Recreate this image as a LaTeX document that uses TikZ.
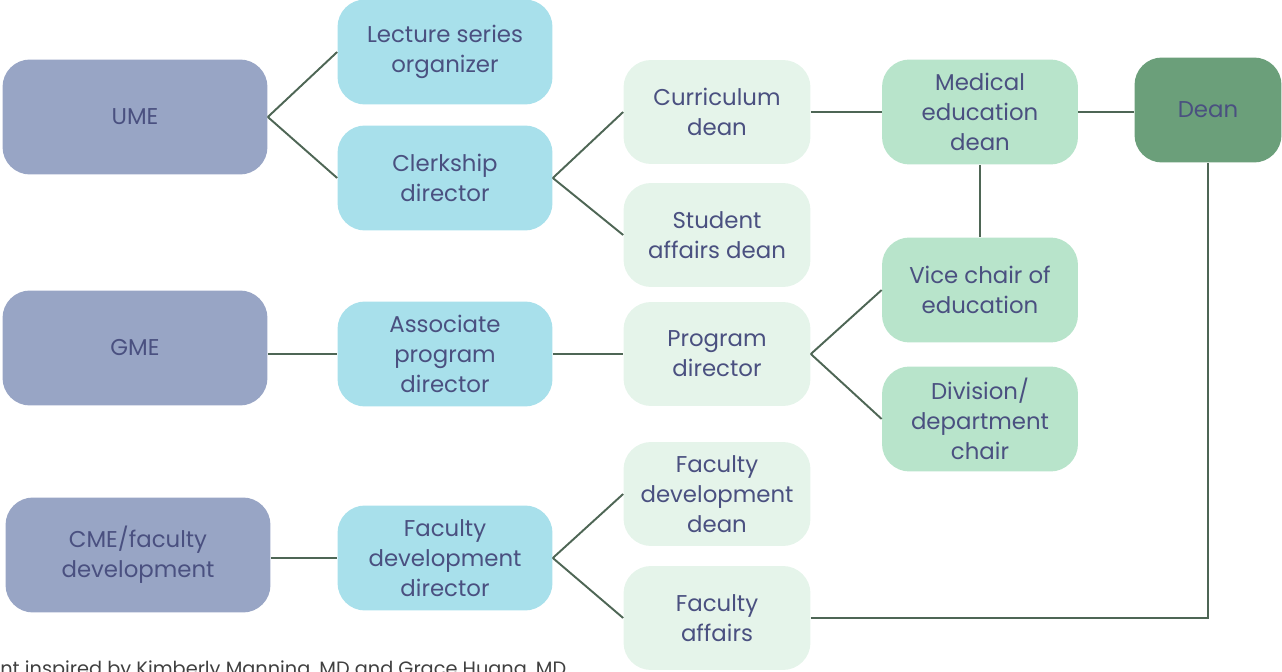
\documentclass[tikz,border=0pt]{standalone}
\usepackage{fontspec}
\setmainfont{Poppins}
\usepackage{tikz}
\usetikzlibrary{positioning}

\definecolor{umefill}{RGB}{152,165,197}
\definecolor{cyanfill}{RGB}{168,224,235}
\definecolor{palefill}{RGB}{229,244,234}
\definecolor{mintfill}{RGB}{184,228,203}
\definecolor{deanfill}{RGB}{107,159,122}
\definecolor{linecol}{RGB}{78,102,85}
\definecolor{textcol}{RGB}{74,80,128}

\tikzset{
	basebox/.style={rounded corners=0.55cm,align=center,text=textcol,
		font=\fontsize{13}{17}\selectfont,inner sep=2pt},
	umebox/.style={basebox,fill=umefill,minimum width=5.3cm,minimum height=2.3cm},
	cyanbox/.style={basebox,fill=cyanfill,minimum width=4.3cm,minimum height=2.1cm},
	palebox/.style={basebox,fill=palefill,minimum width=3.74cm,minimum height=2.08cm},
	mintbox/.style={basebox,fill=mintfill,minimum width=3.92cm,minimum height=2.1cm},
	deanbox/.style={basebox,fill=deanfill,minimum width=2.94cm,minimum height=2.1cm},
}

\begin{document}
\begin{tikzpicture}[x=0.02cm,y=-0.02cm]
	\useasboundingbox (0,0) rectangle (1282,672);
	\clip (0,0) rectangle (1282,672);

	\node [umebox] (ume) at (135,117) {UME};
	\node [umebox] (gme) at (135,348) {GME};
	\node [umebox] (cme) at (138,555) {CME/faculty\\development};

	\node [cyanbox] (lecture) at (445,52) {Lecture series\\organizer};
	\node [cyanbox] (clerkship) at (445,178) {Clerkship\\director};
	\node [cyanbox] (assoc) at (445,354) {Associate\\program\\director};
	\node [cyanbox] (fdd) at (445,558) {Faculty\\development\\director};

	\node [palebox] (curric) at (717,112) {Curriculum\\dean};
	\node [palebox] (student) at (717,235) {Student\\affairs dean};
	\node [palebox] (program) at (717,354) {Program\\director};
	\node [palebox] (fdean) at (717,494) {Faculty\\development\\dean};
	\node [palebox] (faffairs) at (717,618) {Faculty\\affairs};

	\node [mintbox] (meddean) at (980,112) {Medical\\education\\dean};
	\node [mintbox] (vicechair) at (980,290) {Vice chair of\\education};
	\node [mintbox] (division) at (980,419) {Division/\\department\\chair};

	\node [deanbox] (dean) at (1208,110) {Dean};

	\node [anchor=north west,inner sep=0pt,text=black!75,
		font=\fontsize{11}{13}\selectfont] (credit) at (0,660)
		{nt inspired by Kimberly Manning, MD and Grace Huang, MD};

	\begin{scope}[every edge/.style={draw=linecol,line width=1.1pt}]
		\path (ume.east) edge (lecture.west);
		\path (ume.east) edge (clerkship.west);
		\path (clerkship.east) edge (curric.west);
		\path (clerkship.east) edge (student.west);
		\path (curric.east) edge (meddean.west);
		\path (meddean.east |- curric.east) edge (dean.west |- curric.east);
		\path (meddean.south) edge (vicechair.north);
		\path (gme.east |- assoc.west) edge (assoc.west);
		\path (assoc.east) edge (program.west);
		\path (program.east) edge (vicechair.west);
		\path (program.east) edge (division.west);
		\path (cme.east |- fdd.west) edge (fdd.west);
		\path (fdd.east) edge (fdean.west);
		\path (fdd.east) edge (faffairs.west);
		\draw [linecol,line width=1.1pt] (faffairs.east) -| (dean.south);
	\end{scope}
\end{tikzpicture}
\end{document}
